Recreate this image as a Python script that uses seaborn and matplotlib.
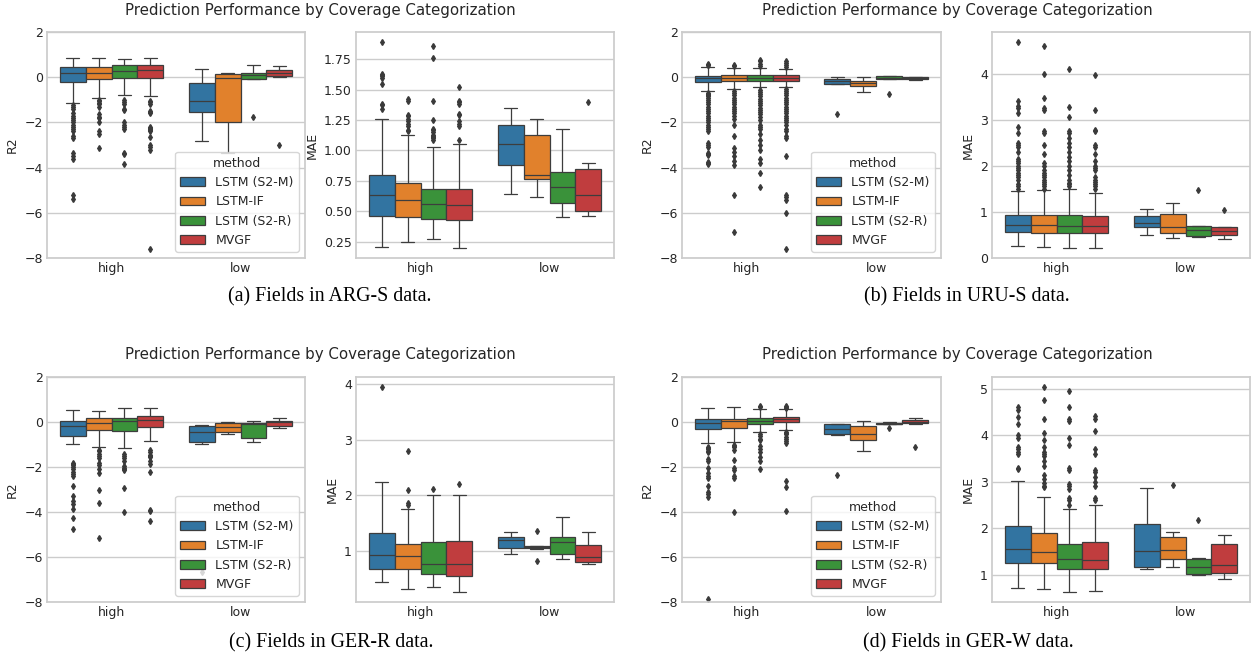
import numpy as np
import pandas as pd
import matplotlib
matplotlib.use("Agg")
import matplotlib.pyplot as plt
import seaborn as sns

METHODS = ["LSTM (S2-M)", "LSTM-IF", "LSTM (S2-R)", "MVGF"]
COVERAGE = ["high", "low"]

# Box summaries (lower whisker, Q1, median, Q3, upper whisker);
# order: high x 4 methods, then low x 4 methods
ARG_R2_BOX = [(-1.12, -0.20, 0.17, 0.43, 0.83), (-0.90, -0.10, 0.17, 0.45, 0.83),
              (-0.80, -0.03, 0.26, 0.52, 0.82), (-0.84, -0.05, 0.30, 0.55, 0.86),
              (-2.84, -1.52, -1.07, -0.24, 0.36), (-3.37, -2.00, -0.02, 0.13, 0.20),
              (-0.08, -0.07, 0.10, 0.17, 0.52), (0.03, 0.04, 0.19, 0.30, 0.50)]
ARG_R2_OUT = [[-1.25, -1.3, -1.4, -1.6, -1.7, -1.8, -1.9, -2.0, -2.1, -2.2, -2.3, -2.4, -2.6, -2.7, -3.35, -3.5, -3.6, -5.2, -5.4],
              [-1.0, -1.05, -1.15, -1.2, -1.3, -1.65, -1.75, -1.8, -2.0, -2.4, -2.5, -3.15],
              [-1.0, -1.1, -1.2, -1.4, -1.45, -2.0, -2.1, -2.2, -2.3, -3.35, -3.4, -3.85],
              [-1.05, -1.1, -1.2, -1.5, -1.55, -1.6, -2.2, -2.25, -2.3, -2.35, -2.4, -2.65, -3.0, -3.1, -3.2, -7.6],
              [], [], [-1.76], [-3.0]]

ARG_MAE_BOX = [(0.21, 0.465, 0.635, 0.80, 1.26), (0.25, 0.455, 0.595, 0.73, 1.13),
               (0.27, 0.44, 0.56, 0.68, 1.03), (0.20, 0.43, 0.55, 0.68, 1.05),
               (0.64, 0.88, 1.05, 1.21, 1.35), (0.62, 0.765, 0.80, 1.125, 1.26),
               (0.45, 0.57, 0.70, 0.825, 1.18), (0.46, 0.505, 0.635, 0.85, 0.90)]
ARG_MAE_OUT = [[1.34, 1.37, 1.38, 1.55, 1.6, 1.61, 1.62, 1.63, 1.89],
               [1.16, 1.17, 1.2, 1.22, 1.24, 1.26, 1.28, 1.29, 1.41, 1.42],
               [1.09, 1.1, 1.11, 1.12, 1.13, 1.15, 1.17, 1.18, 1.25, 1.41, 1.76, 1.86],
               [1.09, 1.2, 1.22, 1.24, 1.29, 1.3, 1.38, 1.4, 1.41, 1.52],
               [], [], [], [1.4]]

URU_R2_BOX = [(-0.62, -0.22, -0.03, 0.07, 0.46), (-0.52, -0.17, -0.03, 0.08, 0.40),
              (-0.44, -0.16, -0.03, 0.08, 0.42), (-0.43, -0.15, -0.05, 0.08, 0.38),
              (-0.30, -0.30, -0.19, -0.07, 0.0), (-0.67, -0.40, -0.25, -0.15, 0.03),
              (-0.10, -0.10, -0.03, 0.04, 0.07), (-0.13, -0.07, -0.03, 0.0, 0.02)]
URU_R2_OUT = [[0.52, 0.56, 0.6, -0.7, -0.75, -0.8, -0.85, -0.9, -1.0, -1.1, -1.2, -1.3, -1.4, -1.5, -1.6, -1.7, -1.8, -1.9, -2.0,
               -2.1, -2.2, -2.3, -2.4, -2.9, -3.0, -3.1, -3.35, -3.4, -3.45, -3.75, -3.8, -3.85],
              [0.5, 0.55, -0.6, -0.7, -0.8, -0.9, -1.0, -1.1, -1.2, -1.3, -1.4, -1.5, -1.6, -1.7, -1.85, -2.1, -2.6, -3.15, -3.3,
               -3.5, -3.7, -3.9, -5.2, -6.85],
              [0.5, 0.6, 0.7, 0.75, -0.55, -0.65, -0.75, -0.85, -0.95, -1.05, -1.15, -1.25, -1.35, -1.45, -1.55, -1.65, -1.75,
               -1.9, -2.1, -2.2, -2.3, -2.5, -2.8, -3.0, -3.2, -3.6, -3.8, -4.25, -4.85],
              [0.45, 0.55, 0.65, 0.72, -0.5, -0.6, -0.7, -0.8, -0.9, -1.0, -1.1, -1.2, -1.3, -1.4, -1.5, -1.6, -1.7, -1.8, -1.9,
               -2.0, -2.1, -2.3, -2.4, -2.6, -2.7, -3.5, -5.2, -5.3, -5.45, -6.0, -7.6],
              [-1.63], [], [-0.75], []]

URU_MAE_BOX = [(0.26, 0.57, 0.72, 0.93, 1.46), (0.23, 0.55, 0.72, 0.92, 1.47),
               (0.22, 0.54, 0.70, 0.93, 1.50), (0.22, 0.54, 0.70, 0.90, 1.41),
               (0.50, 0.66, 0.75, 0.90, 1.05), (0.44, 0.55, 0.68, 0.96, 1.19),
               (0.45, 0.47, 0.60, 0.69, 0.70), (0.40, 0.50, 0.59, 0.67, 0.68)]
URU_MAE_OUT = [[1.5, 1.55, 1.6, 1.7, 1.75, 1.8, 1.85, 1.9, 1.95, 2.0, 2.05, 2.1, 2.15, 2.3, 2.4, 2.45, 2.5, 2.7, 2.85, 3.15,
                3.25, 3.3, 3.4, 4.68],
               [1.5, 1.55, 1.6, 1.65, 1.7, 1.75, 1.8, 1.85, 1.9, 2.0, 2.05, 2.25, 2.45, 2.7, 2.75, 3.2, 3.25, 3.48, 4.0, 4.6],
               [1.55, 1.6, 1.62, 1.7, 1.8, 1.9, 2.0, 2.1, 2.2, 2.3, 2.4, 2.5, 2.6, 2.7, 2.75, 3.05, 3.28, 4.1],
               [1.5, 1.55, 1.6, 1.65, 1.7, 1.75, 1.9, 1.95, 2.0, 2.1, 2.25, 2.4, 2.45, 2.75, 2.78, 3.2, 3.97],
               [], [], [1.48], [1.03]]

GERR_R2_BOX = [(-0.99, -0.64, -0.18, 0.03, 0.52), (-1.13, -0.36, -0.06, 0.17, 0.50),
               (-1.16, -0.42, 0.03, 0.18, 0.61), (-0.83, -0.23, 0.07, 0.26, 0.64),
               (-0.99, -0.90, -0.44, -0.19, -0.15), (-0.52, -0.43, -0.21, -0.06, -0.02),
               (-0.89, -0.71, -0.10, -0.06, 0.03), (-0.28, -0.18, 0.0, 0.06, 0.16)]
GERR_R2_OUT = [[-1.8, -1.85, -1.9, -2.0, -2.1, -2.2, -2.3, -2.4, -2.85, -3.3, -3.5, -3.65, -3.85, -4.25, -4.75],
               [-1.25, -1.3, -1.4, -1.5, -1.6, -1.8, -1.9, -2.1, -2.25, -3.0, -3.6, -5.15],
               [-1.4, -1.5, -1.6, -1.75, -1.95, -2.05, -2.1, -2.15, -2.95, -4.0],
               [-1.25, -1.35, -1.45, -1.5, -1.55, -1.75, -1.85, -2.2, -3.9, -3.95, -4.4],
               [-6.67], [], [], []]

GERR_MAE_BOX = [(0.44, 0.68, 0.93, 1.32, 2.24), (0.32, 0.67, 0.91, 1.13, 1.76),
                (0.35, 0.59, 0.77, 1.16, 2.00), (0.27, 0.56, 0.77, 1.185, 2.01),
                (0.95, 1.05, 1.19, 1.26, 1.34), (1.04, 1.05, 1.08, 1.09, 1.10),
                (0.85, 0.94, 1.17, 1.26, 1.62), (0.77, 0.80, 0.90, 1.11, 1.35)]
GERR_MAE_OUT = [[3.94], [1.83, 1.86, 2.1, 2.8], [2.12], [2.21],
                [], [0.82, 1.36], [], []]

GERW_R2_BOX = [(-0.95, -0.30, -0.03, 0.15, 0.61), (-0.87, -0.27, 0.04, 0.15, 0.65),
               (-0.44, -0.07, 0.06, 0.20, 0.60), (-0.35, 0.0, 0.12, 0.24, 0.57),
               (-0.59, -0.55, -0.33, -0.10, -0.07), (-1.29, -0.79, -0.52, -0.18, 0.03),
               (-0.10, -0.10, -0.07, -0.03, 0.01), (-0.07, -0.06, 0.02, 0.10, 0.19)]
GERW_R2_OUT = [[-1.1, -1.15, -1.2, -1.3, -1.35, -1.65, -1.75, -2.05, -2.25, -2.4, -2.5, -2.85, -3.1, -3.2, -3.35, -7.85],
               [-1.0, -1.05, -1.1, -1.25, -1.7, -2.05, -2.15, -2.4, -2.5, -4.0],
               [0.65, 0.7, -0.55, -0.6, -0.75, -0.8, -1.05, -1.2, -1.35, -1.55, -1.75, -2.1],
               [0.62, 0.65, 0.7, -0.45, -0.5, -0.55, -0.65, -0.75, -0.85, -0.95, -2.6, -2.9, -3.95],
               [-2.37], [], [-0.27], [-1.11]]

GERW_MAE_BOX = [(0.72, 1.25, 1.55, 2.05, 3.02), (0.69, 1.25, 1.49, 1.90, 2.68),
                (0.64, 1.135, 1.35, 1.67, 2.41), (0.65, 1.13, 1.33, 1.70, 2.51),
                (1.135, 1.17, 1.51, 2.10, 2.86), (1.18, 1.35, 1.54, 1.82, 1.925),
                (1.00, 1.03, 1.17, 1.335, 1.37), (0.92, 1.05, 1.21, 1.67, 1.85)]
GERW_MAE_OUT = [[3.27, 3.3, 3.6, 3.65, 3.7, 3.75, 3.95, 4.0, 4.25, 4.4, 4.55, 4.6],
                [2.88, 2.92, 2.97, 3.05, 3.15, 3.35, 3.45, 3.55, 3.6, 3.65, 3.75, 3.9, 4.05, 4.35, 4.75, 5.03],
                [2.5, 2.6, 2.65, 2.85, 2.9, 2.95, 3.25, 3.3, 3.8, 3.95, 4.3, 4.35, 4.6, 4.95],
                [2.6, 2.65, 2.9, 3.0, 3.1, 3.2, 3.25, 3.6, 3.7, 4.1, 4.35, 4.42],
                [], [2.94], [2.17], []]

R2_TICKS = [-8, -6, -4, -2, 0, 2]
MAE_TICKS = [[0.25, 0.5, 0.75, 1.0, 1.25, 1.5, 1.75],
             [0, 1, 2, 3, 4],
             [1, 2, 3, 4],
             [1, 2, 3, 4, 5]]

TITLE = "Prediction Performance by Coverage Categorization"
CAPTIONS = ["(a) Fields in ARG-S data.", "(b) Fields in URU-S data.",
            "(c) Fields in GER-R data.", "(d) Fields in GER-W data."]


def build_frame(boxes, outliers):
    """Observations whose quartiles, whiskers and fliers equal the box summaries."""
    rows = []
    i = 0
    for cov in COVERAGE:
        for m in METHODS:
            lo, q1, med, q3, hi = boxes[i]
            low = sorted(v for v in outliers[i] if v < q1)
            high = sorted(v for v in outliers[i] if v > q3)
            k = max(len(low), len(high)) + 2
            vals = (low + [lo] * (k - len(low)) + [q1] * k + [med]
                    + [q3] * k + [hi] * (k - len(high)) + high)
            rows += [(cov, m, v) for v in vals]
            i += 1
    return pd.DataFrame(rows, columns=["coverage", "method", "value"])


sns.set_theme(style="whitegrid")
plt.rcParams["font.family"] = ["DejaVu Sans"]

W, H = 1257, 659
fig = plt.figure(figsize=(W / 100, H / 100), dpi=100)


def add_ax(l, t, r, b):
    return fig.add_axes([l / W, 1 - b / H, (r - l) / W, (b - t) / H])


panels = [
    (ARG_R2_BOX, ARG_R2_OUT, ARG_MAE_BOX, ARG_MAE_OUT, 47, 305, 356, 614, 32, 258),
    (URU_R2_BOX, URU_R2_OUT, URU_MAE_BOX, URU_MAE_OUT, 682, 941, 992, 1250, 32, 258),
    (GERR_R2_BOX, GERR_R2_OUT, GERR_MAE_BOX, GERR_MAE_OUT, 47, 305, 356, 614, 377, 602),
    (GERW_R2_BOX, GERW_R2_OUT, GERW_MAE_BOX, GERW_MAE_OUT, 682, 941, 992, 1250, 377, 602),
]
title_pos = [(320, 10), (957, 10), (320, 354), (957, 354)]
cap_pos = [(330, 297), (967, 297), (331, 643), (968, 643)]
FLIER = "#3a3a3a"

for p, (rb, ro, mb, mo, l1, r1, l2, r2, t, b) in enumerate(panels):
    ax1 = add_ax(l1, t, r1, b)
    ax2 = add_ax(l2, t, r2, b)
    for ax, boxes, outs, label in [(ax1, rb, ro, "R2"), (ax2, mb, mo, "MAE")]:
        df = build_frame(boxes, outs)
        sns.boxplot(data=df, x="coverage", y="value", hue="method", order=COVERAGE,
                    hue_order=METHODS, palette="tab10", saturation=0.75,
                    fliersize=3, linewidth=0.9, ax=ax,
                    flierprops=dict(marker="d", markerfacecolor=FLIER,
                                    markeredgecolor=FLIER))
        ax.set_xlabel("")
        ax.set_ylabel(label, fontsize=9, labelpad=4)
        ax.tick_params(labelsize=9, length=0, pad=3)
    ax1.set_ylim(-8, 2)
    ax1.set_yticks(R2_TICKS)
    ax2.set_yticks(MAE_TICKS[p])
    sns.move_legend(ax1, "lower right", title="method", fontsize=9, title_fontsize=9)
    if ax2.get_legend() is not None:
        ax2.get_legend().remove()
    tx, ty = title_pos[p]
    fig.text(tx / W, 1 - ty / H, TITLE, ha="center", va="center", fontsize=10.8,
             color="0.15")
    cx, cy = cap_pos[p]
    fig.text(cx / W, 1 - cy / H, CAPTIONS[p], ha="center", va="center", fontsize=14.3,
             family=["Liberation Serif", "DejaVu Serif"], color="black")

fig.savefig("out.png", dpi=100)
